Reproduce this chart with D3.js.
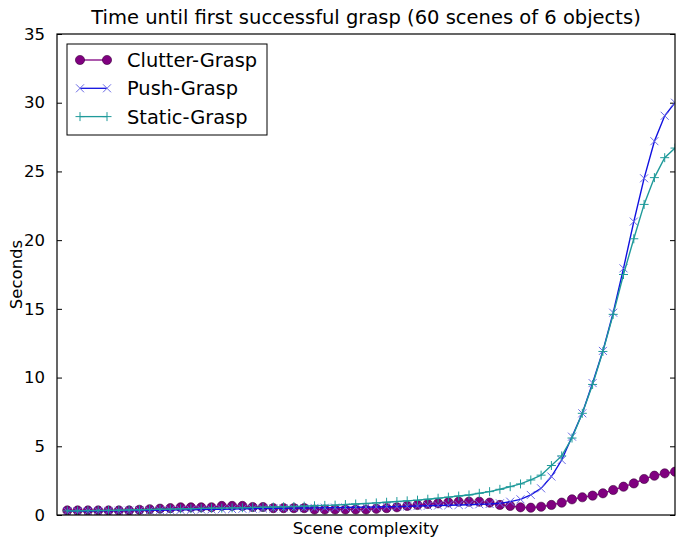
<!DOCTYPE html>
<html>
<head>
<meta charset="utf-8">
<script src="https://cdn.jsdelivr.net/npm/d3@7"></script>
<style>
  body { margin: 0; background: #fff; }
  text { font-family: "DejaVu Sans", sans-serif; fill: #000; }
</style>
</head>
<body>
<div id="grafica"></div>
<script>
// scene index 1..60
var scenes = d3.range(1, 61);

var clutterGrasp = [
  0.33, 0.33, 0.33, 0.33, 0.33, 0.33, 0.33, 0.38, 0.42, 0.46,
  0.50, 0.56, 0.56, 0.56, 0.56, 0.66, 0.66, 0.66, 0.58, 0.58,
  0.50, 0.50, 0.50, 0.50, 0.40, 0.40, 0.40, 0.40, 0.40, 0.40,
  0.45, 0.50, 0.56, 0.66, 0.73, 0.80, 0.85, 0.92, 0.97, 0.97,
  0.97, 0.90, 0.73, 0.66, 0.56, 0.53, 0.60, 0.73, 0.90, 1.14,
  1.29, 1.41, 1.58, 1.82, 2.06, 2.30, 2.62, 2.86, 3.03, 3.15
];

var pushGrasp = [
  0.28, 0.28, 0.29, 0.30, 0.30, 0.31, 0.32, 0.33, 0.34, 0.35,
  0.36, 0.37, 0.38, 0.40, 0.41, 0.42, 0.43, 0.45, 0.46, 0.47,
  0.48, 0.49, 0.50, 0.51, 0.52, 0.53, 0.54, 0.55, 0.56, 0.57,
  0.58, 0.60, 0.61, 0.63, 0.65, 0.67, 0.69, 0.71, 0.73, 0.75,
  0.78, 0.80, 0.85, 0.97, 1.14, 1.46, 1.94, 2.80, 4.00, 5.70,
  7.40, 9.60, 11.94, 14.72, 17.95, 21.35, 24.50, 27.20, 29.05, 30.00
];

var staticGrasp = [
  0.30, 0.30, 0.32, 0.33, 0.34, 0.35, 0.37, 0.38, 0.40, 0.42,
  0.43, 0.45, 0.46, 0.48, 0.50, 0.50, 0.52, 0.53, 0.55, 0.56,
  0.58, 0.60, 0.62, 0.64, 0.67, 0.70, 0.72, 0.76, 0.80, 0.84,
  0.88, 0.93, 0.98, 1.03, 1.08, 1.15, 1.22, 1.30, 1.38, 1.46,
  1.58, 1.70, 1.87, 2.06, 2.26, 2.55, 2.90, 3.60, 4.30, 5.60,
  7.40, 9.50, 11.90, 14.60, 17.50, 20.10, 22.60, 24.55, 26.00, 26.70
];

var yTicks = [0, 5, 10, 15, 20, 25, 30, 35];

var series = [
  { name: "Clutter-Grasp", values: clutterGrasp, line: "#800080", mark: "#800080", marker: "circle" },
  { name: "Push-Grasp", values: pushGrasp, line: "#1010e0", mark: "#6a6ae6", marker: "x" },
  { name: "Static-Grasp", values: staticGrasp, line: "#1f9a9a", mark: "#1f9a9a", marker: "plus" }
];

var margin = {top: 34, right: 8, bottom: 23, left: 57},
    width = 683 - margin.left - margin.right,
    height = 538 - margin.top - margin.bottom;

var svgRoot = d3.select("#grafica")
  .append("svg")
    .attr("width", 683)
    .attr("height", 538);

var svg = svgRoot.append("g")
    .attr("transform", "translate(" + margin.left + "," + margin.top + ")");

var x = d3.scaleLinear().domain([0, 60]).range([0, width]);
var y = d3.scaleLinear().domain([0, 35]).range([height, 0]);

// title
svgRoot.append("text")
  .attr("x", margin.left + width / 2)
  .attr("y", 24)
  .attr("text-anchor", "middle")
  .style("font-size", "19.5px")
  .text("Time until first successful grasp (60 scenes of 6 objects)");

// x label
svg.append("text")
  .attr("x", width / 2)
  .attr("y", height + 19)
  .attr("text-anchor", "middle")
  .style("font-size", "16.5px")
  .text("Scene complexity");

// y label
svg.append("text")
  .attr("transform", "translate(-35," + (height / 2) + ") rotate(-90)")
  .attr("text-anchor", "middle")
  .style("font-size", "16.5px")
  .text("Seconds");

// left axis, ticks inward
var yAxis = svg.append("g")
  .call(d3.axisLeft(y).tickValues(yTicks).tickSizeInner(-5).tickSizeOuter(0).tickPadding(12));
yAxis.select(".domain").remove();
yAxis.selectAll("line").attr("stroke", "#000");
yAxis.selectAll("text").style("font-size", "16.5px").style("font-family", "DejaVu Sans");

// right axis ticks
var yAxisR = svg.append("g")
  .attr("transform", "translate(" + width + ",0)")
  .call(d3.axisRight(y).tickValues(yTicks).tickSizeInner(-5).tickSizeOuter(0).tickFormat(""));
yAxisR.select(".domain").remove();
yAxisR.selectAll("line").attr("stroke", "#000");

// plot area clip
svg.append("defs").append("clipPath")
  .attr("id", "clip")
  .append("rect")
  .attr("x", 0).attr("y", 0)
  .attr("width", width).attr("height", height);

var plot = svg.append("g").attr("clip-path", "url(#clip)");

function markerPath(type) {
  if (type == "x") return "M-4,-4L4,4M-4,4L4,-4";
  return "M-4.5,0L4.5,0M0,-4.5L0,4.5";
}

var line = d3.line()
  .x(function(d, i) { return x(scenes[i]); })
  .y(function(d) { return y(d); });

series.forEach(function(s) {
  var g = plot.append("g");
  if (s.marker == "circle") {
    g.selectAll("circle")
      .data(s.values)
      .enter().append("circle")
      .attr("cx", function(d, i) { return x(scenes[i]); })
      .attr("cy", function(d) { return y(d); })
      .attr("r", 4.6)
      .attr("fill", s.mark)
      .attr("stroke", "#3a003a")
      .attr("stroke-width", 0.6);
  }
  g.append("path")
    .datum(s.values)
    .attr("fill", "none")
    .attr("stroke", s.line)
    .attr("stroke-width", 1.4)
    .attr("d", line);
  if (s.marker != "circle") {
    g.selectAll(".mk")
      .data(s.values)
      .enter().append("path")
      .attr("class", "mk")
      .attr("transform", function(d, i) { return "translate(" + x(scenes[i]) + "," + y(d) + ")"; })
      .attr("d", markerPath(s.marker))
      .attr("stroke", s.mark)
      .attr("stroke-width", 1)
      .attr("fill", "none");
  }
});

// frame
svg.append("rect")
  .attr("x", 0).attr("y", 0)
  .attr("width", width).attr("height", height)
  .attr("fill", "none")
  .attr("stroke", "#000")
  .attr("stroke-width", 1.2);

// legend
var legend = svg.append("g").attr("transform", "translate(10,10)");
legend.append("rect")
  .attr("x", 0).attr("y", 0)
  .attr("width", 200).attr("height", 91)
  .attr("fill", "#fff")
  .attr("stroke", "#000")
  .attr("stroke-width", 1);

series.forEach(function(s, k) {
  var ly = 16 + k * 28.3;
  var row = legend.append("g").attr("transform", "translate(0," + ly + ")");
  row.append("line")
    .attr("x1", 13).attr("x2", 40)
    .attr("y1", 0).attr("y2", 0)
    .attr("stroke", s.line)
    .attr("stroke-width", 1.3);
  [13, 40].forEach(function(px) {
    if (s.marker == "circle") {
      row.append("circle").attr("cx", px).attr("cy", 0).attr("r", 4.6)
        .attr("fill", s.mark).attr("stroke", "#3a003a").attr("stroke-width", 0.6);
    } else {
      row.append("path")
        .attr("transform", "translate(" + px + ",0)")
        .attr("d", markerPath(s.marker))
        .attr("stroke", s.mark).attr("stroke-width", 1).attr("fill", "none");
    }
  });
  row.append("text")
    .attr("x", 60)
    .attr("y", 7)
    .style("font-size", "19.4px")
    .text(s.name);
});
</script>
</body>
</html>
